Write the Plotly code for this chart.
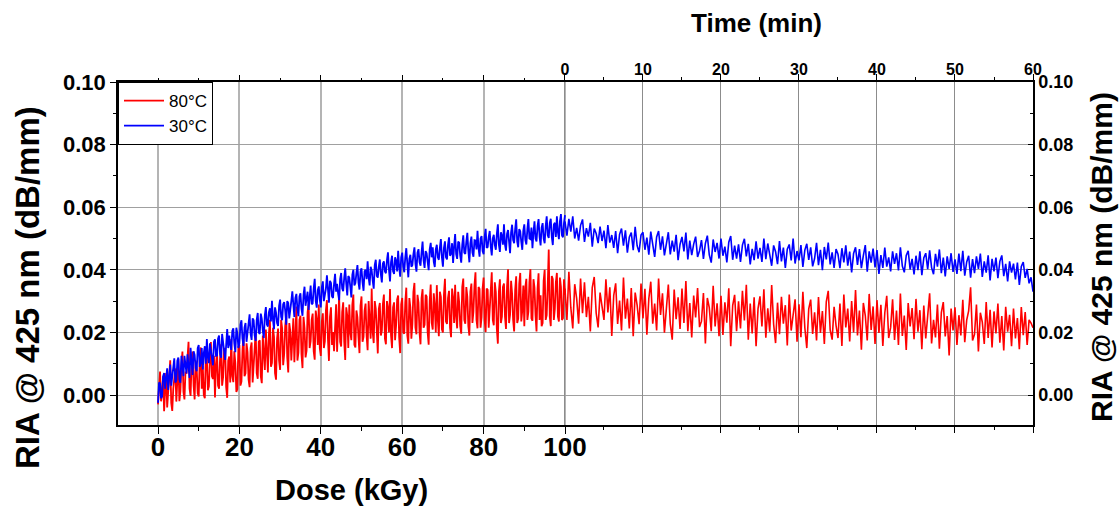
import plotly.graph_objects as go

# ---------------- data (RIA values in units of 1e-4 dB/mm) ----------------
# sampling grids
dose_kGy = [i * 0.25 for i in range(401)]     # 0 .. 100 kGy (irradiation)
time_min = [i * 0.25 for i in range(241)]     # 0 .. 60 min (recovery)

ria_30C_dose = [
    -25, 40, 37, -10, -5, 60, 70, 20, 55, 85, 16, 75, 97, 30, 57, 100, 117, 40, 46, 110,
    120, 50, 39, 125, 97, 60, 125, 85, 69, 130, 92, 55, 151, 95, 64, 140, 128, 85, 76, 150,
    160, 90, 103, 150, 82, 135, 156, 100, 179, 120, 102, 165, 141, 105, 95, 170, 178, 125, 126, 180,
    190, 130, 119, 195, 173, 140, 112, 185, 211, 150, 190, 160, 144, 205, 213, 165, 137, 215, 196, 150,
    165, 225, 239, 180, 157, 215, 230, 170, 194, 235, 258, 195, 176, 245, 239, 190, 173, 240, 262, 200,
    195, 260, 243, 205, 182, 255, 281, 225, 219, 265, 277, 235, 301, 240, 210, 280, 263, 230, 221, 285,
    305, 250, 239, 290, 297, 270, 225, 300, 294, 245, 268, 300, 331, 270, 249, 310, 323, 275, 252, 315,
    325, 275, 253, 320, 346, 285, 309, 330, 272, 320, 350, 290, 293, 340, 371, 300, 279, 335, 347, 305,
    280, 345, 363, 300, 315, 340, 382, 320, 295, 365, 358, 315, 310, 355, 387, 330, 355, 325, 303, 370,
    390, 340, 332, 375, 405, 355, 318, 380, 375, 345, 312, 385, 400, 350, 358, 390, 415, 360, 337, 395,
    405, 360, 333, 395, 400, 370, 427, 375, 350, 410, 398, 365, 340, 415, 432, 380, 375, 410, 433, 385,
    360, 420, 427, 395, 389, 430, 456, 400, 363, 425, 445, 395, 387, 440, 429, 395, 461, 410, 378, 440,
    455, 410, 392, 440, 469, 420, 376, 435, 448, 410, 415, 450, 472, 420, 394, 455, 466, 425, 413, 455,
    490, 430, 406, 460, 453, 425, 399, 465, 486, 440, 472, 425, 409, 465, 480, 440, 432, 470, 498, 440,
    410, 470, 491, 440, 433, 480, 504, 445, 451, 485, 422, 475, 514, 450, 435, 490, 487, 445, 423, 480,
    510, 455, 451, 490, 518, 460, 424, 485, 506, 455, 442, 495, 494, 465, 525, 470, 442, 500, 508, 460,
    450, 505, 531, 470, 473, 505, 524, 475, 446, 500, 512, 480, 464, 515, 545, 480, 457, 520, 508, 480,
    545, 480, 461, 515, 527, 490, 453, 520, 544, 495, 485, 530, 561, 490, 472, 530, 523, 490, 464, 525,
    545, 495, 481, 530, 562, 500, 498, 535, 469, 520, 555, 500, 491, 540, 562, 505, 478, 535, 549, 500,
    485, 540, 571, 510, 502, 550, 563, 505, 479, 545, 550, 505, 571, 520, 498, 555, 578, 510, 504, 550,
    575,
]

ria_80C_dose = [
    -30, 50, 75, -20, 5, 60, -52, 15, 70, -40, 8, 90, 111, -25, -51, 20, 47, 85, -21, 60,
    115, -20, 12, 95, 139, 10, -14, 75, 68, 120, 170, 20, -3, 100, 139, 30, -14, 110, 88, 5,
    -5, 110, 152, 20, 93, 0, -10, 130, 121, 15, 28, 115, 169, 60, 51, 125, -8, 100, 139, 30,
    20, 120, 162, 30, 58, 150, 140, 25, -9, 110, 123, 40, 179, 60, 41, 140, 102, 10, 19, 155,
    160, 30, 43, 140, 196, 60, 69, 165, 137, 50, 25, 150, 168, 40, 96, 185, 204, 70, 52, 170,
    175, 60, 38, 190, 146, 80, 209, 120, 72, 195, 240, 90, 103, 215, 186, 70, 49, 180, 212, 110,
    80, 240, 213, 95, 131, 220, 254, 120, 72, 230, 204, 110, 182, 245, 105, 215, 283, 110, 136, 240,
    253, 130, 86, 250, 214, 120, 142, 265, 290, 150, 172, 240, 260, 140, 113, 270, 241, 160, 289, 150,
    125, 235, 261, 150, 172, 270, 303, 180, 109, 250, 280, 160, 201, 140, 257, 290, 138, 245, 319, 170,
    155, 265, 296, 170, 112, 280, 253, 150, 289, 200, 175, 290, 321, 160, 152, 270, 248, 185, 134, 285,
    315, 170, 186, 270, 292, 190, 143, 300, 249, 180, 340, 200, 166, 300, 276, 165, 133, 275, 294, 190,
    205, 290, 321, 180, 162, 300, 278, 200, 339, 190, 150, 280, 296, 175, 222, 305, 318, 185, 134, 290,
    310, 200, 196, 295, 343, 190, 164, 310, 280, 180, 226, 330, 358, 215, 194, 320, 295, 200, 162, 310,
    338, 215, 224, 320, 315, 200, 161, 300, 353, 230, 209, 325, 285, 200, 351, 240, 188, 330, 314, 210,
    200, 320, 371, 235, 227, 310, 333, 215, 185, 340, 311, 230, 352, 250, 213, 330, 295, 220, 196, 345,
    372, 240, 228, 345, 314, 220, 190, 330, 356, 230, 266, 350, 392, 240, 213, 345, 339, 215, 249, 340,
    375, 240, 201, 340, 336, 215, 267, 350, 392, 240, 223, 360, 329, 210, 164, 330, 370, 230, 250, 345,
    356, 250, 211, 345, 402, 230, 257, 365, 323, 240, 203, 335, 379, 230, 244, 355, 390, 235, 270, 350,
    220, 345, 371, 240, 266, 360, 402, 245, 237, 370, 343, 255, 203, 340, 389, 240, 319, 220, 230, 365,
    400, 240, 255, 350, 465, 250, 220, 380, 370, 240, 275, 360, 390, 250, 235, 375, 345, 240, 245, 370,
    320,
]

ria_30C_time = [
    555, 509, 563, 522, 571, 500, 534, 493, 542, 561,
    489, 533, 506, 550, 474, 532, 516, 485, 538, 492,
    525, 469, 543, 487, 511, 470, 524, 453, 513, 532,
    477, 526, 455, 504, 519, 463, 537, 477, 456, 511,
    520, 464, 503, 448, 522, 476, 441, 505, 524, 464,
    507, 446, 490, 520, 449, 493, 458, 512, 431, 481,
    505, 459, 519, 433, 493, 447, 482, 506, 441, 461,
    495, 435, 484, 509, 448, 423, 497, 457, 486, 436,
    500, 445, 474, 424, 488, 508, 432, 477, 436, 481,
    425, 479, 499, 443, 483, 417, 467, 431, 491, 436,
    470, 425, 500, 434, 484, 444, 413, 478, 458, 418,
    492, 427, 471, 406, 466, 481, 430, 500, 420, 460,
    430, 479, 409, 463, 483, 432, 472, 411, 436, 486,
    415, 464, 399, 473, 433, 487, 417, 456, 406, 466,
    450, 405, 469, 424, 478, 413, 458, 392, 452, 472,
    416, 466, 405, 445, 479, 394, 459, 423, 468, 408,
    463, 387, 447, 406, 471, 410, 440, 395, 459, 419,
    453, 398, 472, 412, 392, 446, 461, 401, 435, 385,
    445, 399, 459, 383, 438, 453, 402, 462, 407, 386,
    451, 410, 465, 389, 439, 379, 443, 403, 453, 393,
    433, 387, 452, 396, 461, 381, 425, 445, 375, 434,
    389, 443, 403, 452, 377, 427, 391, 446, 366, 435,
    395, 439, 373, 427, 446, 380, 419, 363, 427, 391,
    420, 369, 423, 352, 411, 425, 374, 403, 357, 376,
    330,
]

ria_80C_time = [
    340, 240, 394, 279, 213, 354, 308, 228, 372, 261,
    360, 249, 314, 203, 343, 377, 262, 216, 327, 281,
    240, 370, 264, 344, 189, 318, 357, 227, 302, 206,
    375, 244, 308, 213, 342, 188, 327, 287, 226, 356,
    245, 339, 193, 308, 362, 228, 292, 206, 372, 256,
    325, 199, 284, 353, 227, 177, 337, 242, 312, 211,
    340, 230, 364, 204, 294, 184, 318, 248, 342, 217,
    236, 326, 165, 310, 279, 204, 349, 219, 293, 188,
    317, 192, 296, 231, 341, 156, 286, 320, 204, 299,
    213, 333, 238, 352, 177, 292, 197, 312, 156, 276,
    315, 219, 338, 183, 277, 202, 351, 226, 166, 295,
    194, 314, 228, 287, 158, 321, 206, 261, 306, 170,
    290, 185, 330, 215, 150, 275, 305, 195, 264, 174,
    313, 198, 268, 163, 298, 333, 207, 177, 282, 222,
    182, 292, 157, 321, 216, 276, 171, 300, 200, 335,
    190, 270, 145, 294, 254, 174, 323, 208, 283, 163,
    303, 198, 288, 157, 262, 317, 182, 216, 306, 176,
    270, 160, 324, 189, 254, 144, 294, 219, 278, 178,
    307, 202, 271, 146, 286, 181, 251, 325, 165, 240,
    184, 289, 148, 263, 297, 187, 252, 126, 276, 206,
    280, 160, 255, 190, 304, 169, 239, 269, 344, 174,
    194, 289, 139, 263, 233, 163, 297, 182, 272, 152,
    267, 197, 292, 167, 252, 142, 282, 202, 256, 156,
    276, 181, 246, 146, 281, 191, 265, 160, 240, 230,
    215,
]

series_names = ["80°C", "30°C"]
series_colors = ["#ff0000", "#0000ff"]

dose_ticks = [0, 20, 40, 60, 80, 100]
dose_minor = [-10, 10, 30, 50, 70, 90]
time_ticks = [0, 10, 20, 30, 40, 50, 60]
time_minor = [5, 15, 25, 35, 45, 55]
y_ticks = [0.00, 0.02, 0.04, 0.06, 0.08, 0.10]
y_minor = [-0.01, 0.01, 0.03, 0.05, 0.07, 0.09]

UNIT = 1e-4  # stored values are in 1e-4 dB/mm

# ---------------- figure ----------------
FONT = "Liberation Sans, Arial, sans-serif"
fig = go.Figure()

dose_sets = [ria_80C_dose, ria_30C_dose]
time_sets = [ria_80C_time, ria_30C_time]
for name, col, dvals, tvals in zip(series_names, series_colors, dose_sets, time_sets):
    fig.add_trace(go.Scatter(
        x=dose_kGy, y=[v * UNIT for v in dvals], mode="lines",
        line=dict(color=col, width=1.8), name=name, legendgroup=name,
        xaxis="x", yaxis="y", showlegend=True))
    fig.add_trace(go.Scatter(
        x=time_min, y=[v * UNIT for v in tvals], mode="lines",
        line=dict(color=col, width=1.6), name=name, legendgroup=name,
        xaxis="x2", yaxis="y", showlegend=False))

dose_range = [-9.83, 214.98]
time_range = [-57.3, 60]
y_range = [-0.00958, 0.1]

axis_common = dict(showline=True, linecolor="black", linewidth=1.5,
                   zeroline=False, ticks="outside", tickcolor="black",
                   tickwidth=1.2)

fig.update_layout(
    width=1119, height=508,
    margin=dict(l=118, r=86, t=82, b=83),
    paper_bgcolor="white", plot_bgcolor="white",
    font=dict(family=FONT, color="black"),
    xaxis=dict(
        range=dose_range, tickmode="array", tickvals=dose_ticks,
        ticklen=7, showgrid=True, gridcolor="#b4b4b4", gridwidth=1.5,
        ticklabelstandoff=-9,
        tickfont=dict(size=26, weight="bold", family=FONT),
        minor=dict(tickmode="array", tickvals=dose_minor, ticks="outside",
                   ticklen=4, tickcolor="black", showgrid=False),
        **axis_common),
    xaxis2=dict(
        overlaying="x", side="top", range=time_range, tickmode="array",
        tickvals=time_ticks, ticklen=6, showgrid=True, gridcolor="#8c8c8c",
        gridwidth=1, ticklabelstandoff=-7,
        tickfont=dict(size=16, weight="bold", family=FONT),
        minor=dict(tickmode="array", tickvals=time_minor, ticks="outside",
                   ticklen=3, tickcolor="black", showgrid=False),
        **axis_common),
    xaxis3=dict(
        overlaying="x", side="bottom", range=time_range, tickmode="array",
        tickvals=time_ticks[1:], ticklen=7, showgrid=False,
        showticklabels=False, showline=False, zeroline=False,
        ticks="outside", tickcolor="black", tickwidth=1.2,
        minor=dict(tickmode="array", tickvals=time_minor, ticks="outside",
                   ticklen=4, tickcolor="black", showgrid=False)),
    xaxis4=dict(
        overlaying="x", side="top", range=dose_range, tickmode="array",
        tickvals=[20, 40, 60, 80], ticklen=6, showgrid=False,
        showticklabels=False, showline=False, zeroline=False,
        ticks="outside", tickcolor="black", tickwidth=1.2,
        minor=dict(tickmode="array", tickvals=[0, 10, 30, 50, 70, 90],
                   ticks="outside", ticklen=3, tickcolor="black",
                   showgrid=False)),
    yaxis=dict(
        range=y_range, tickmode="array", tickvals=y_ticks,
        tickformat=".2f", ticklen=6, showgrid=True, gridcolor="#a0a0a0",
        gridwidth=1.2, tickfont=dict(size=22, weight="bold", family=FONT),
        minor=dict(tickmode="array", tickvals=y_minor, ticks="outside",
                   ticklen=3, tickcolor="black", showgrid=False),
        **axis_common),
    yaxis2=dict(
        overlaying="y", side="right", range=y_range, tickmode="array",
        tickvals=y_ticks, tickformat=".2f", ticks="inside", ticklen=5,
        tickcolor="black", tickwidth=1.2, showline=True, linecolor="black",
        linewidth=1.5, showgrid=False, zeroline=False,
        tickfont=dict(size=18, weight="bold", family=FONT),
        minor=dict(tickmode="array", tickvals=y_minor, ticks="inside",
                   ticklen=3, tickcolor="black", showgrid=False)),
    showlegend=True,
    legend=dict(x=0, y=1, xanchor="left", yanchor="top",
                bgcolor="white", bordercolor="black", borderwidth=1,
                font=dict(size=17, family=FONT, color="black"),
                tracegroupgap=0, itemwidth=40),
    annotations=[
        dict(text="Dose (kGy)", xref="paper", yref="paper", x=0.2557,
             y=-0.1895, xanchor="center", yanchor="middle", showarrow=False,
             font=dict(size=29, weight="bold", family=FONT)),
        dict(text="Time (min)", xref="paper", yref="paper", x=0.698,
             y=1.172, xanchor="center", yanchor="middle", showarrow=False,
             font=dict(size=26, weight="bold", family=FONT)),
        dict(text="RIA @ 425 nm (dB/mm)", xref="paper", yref="paper",
             x=-0.0995, y=0.402, xanchor="center", yanchor="middle",
             textangle=-90, showarrow=False,
             font=dict(size=33, weight="bold", family=FONT)),
        dict(text="RIA @ 425 nm (dB/mm)", xref="paper", yref="paper",
             x=1.0754, y=0.49, xanchor="center", yanchor="middle",
             textangle=-90, showarrow=False,
             font=dict(size=30, weight="bold", family=FONT)),
    ],
)

# invisible traces that activate the extra tick axes
fig.add_trace(go.Scatter(x=[None], y=[None], xaxis="x3", yaxis="y2",
                         showlegend=False, hoverinfo="skip"))
fig.add_trace(go.Scatter(x=[None], y=[None], xaxis="x4", yaxis="y2",
                         showlegend=False, hoverinfo="skip"))

fig.write_html("out.html", config={"displayModeBar": False},
               post_script="document.body.style.margin='0';")
